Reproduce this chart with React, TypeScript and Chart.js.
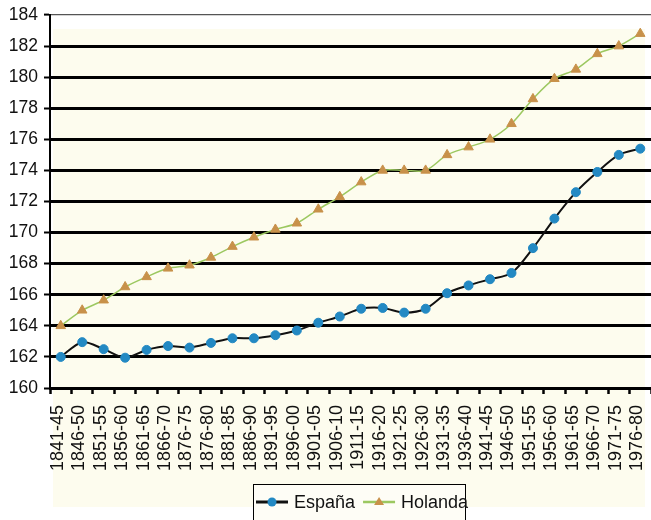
import React, { useEffect, useRef } from 'react';
import { Chart, registerables } from 'chart.js';

Chart.register(...registerables);

const categories = [
  '1841-45', '1846-50', '1851-55', '1856-60', '1861-65', '1866-70', '1876-75', '1876-80',
  '1881-85', '1886-90', '1891-95', '1896-00', '1901-05', '1906-10', '1911-15', '1916-20',
  '1921-25', '1926-30', '1931-35', '1936-40', '1941-45', '1946-50', '1951-55', '1956-60',
  '1961-65', '1966-70', '1971-75', '1976-80',
];

const espana = [
  162.0, 162.95, 162.5, 161.95, 162.45, 162.7, 162.6, 162.9,
  163.2, 163.2, 163.4, 163.7, 164.2, 164.6, 165.1, 165.15,
  164.85, 165.1, 166.1, 166.6, 167.0, 167.4, 169.0, 170.9,
  172.6, 173.9, 175.0, 175.4,
];

const holanda = [
  164.0, 165.0, 165.65, 166.5, 167.15, 167.7, 167.9, 168.4,
  169.1, 169.7, 170.2, 170.6, 171.5, 172.3, 173.25, 174.0,
  174.0, 174.0, 175.0, 175.5, 176.0, 177.0, 178.6, 179.9,
  180.5, 181.5, 182.0, 182.8,
];

const yMin = 160;
const yMax = 184;
const yStep = 2;

const FONT = "'Liberation Sans', Arial, Helvetica, sans-serif";

export default function App() {
  const ref = useRef<HTMLCanvasElement>(null);

  useEffect(() => {
    document.body.style.margin = '0';
    const canvas = ref.current;
    if (!canvas) return;

    const bgPlugin = {
      id: 'bgPlugin',
      beforeDraw(chart: any) {
        const c = chart.ctx;
        c.save();
        c.fillStyle = '#FDFCEE';
        c.fillRect(53, 29, 592, 478);
        c.restore();
      },
    };

    const legendPlugin = {
      id: 'customLegend',
      afterDraw(chart: any) {
        const c = chart.ctx;
        c.save();
        c.fillStyle = '#FEFDF6';
        c.fillRect(253.5, 484.5, 212, 40);
        c.strokeStyle = '#000';
        c.lineWidth = 1;
        c.strokeRect(253.5, 484.5, 212, 40);
        c.font = `18px ${FONT}`;
        c.textBaseline = 'middle';
        let x = 256;
        const y = 502;
        chart.data.datasets.forEach((ds: any) => {
          c.strokeStyle = ds.borderColor;
          c.lineWidth = ds.borderWidth + 1;
          c.beginPath();
          c.moveTo(x, y);
          c.lineTo(x + 32, y);
          c.stroke();
          const cx = x + 16;
          c.fillStyle = ds.pointBackgroundColor;
          c.beginPath();
          if (ds.pointStyle === 'triangle') {
            const r = 5;
            c.moveTo(cx, y - r);
            c.lineTo(cx + r, y + r * 0.6);
            c.lineTo(cx - r, y + r * 0.6);
            c.closePath();
          } else {
            c.arc(cx, y, 4.5, 0, Math.PI * 2);
          }
          c.fill();
          c.fillStyle = '#111';
          c.fillText(ds.label, x + 38, y + 1);
          x += 38 + c.measureText(ds.label).width + 8;
        });
        c.restore();
      },
    };

    const chart = new Chart(canvas, {
      type: 'line',
      data: {
        labels: categories,
        datasets: [
          {
            label: 'España',
            data: espana,
            borderColor: '#111111',
            borderWidth: 2,
            pointStyle: 'circle',
            pointRadius: 4.5,
            pointBackgroundColor: '#2389C3',
            pointBorderColor: '#2389C3',
            pointBorderWidth: 1,
            tension: 0.3,
          },
          {
            label: 'Holanda',
            data: holanda,
            borderColor: '#9CC860',
            borderWidth: 1.5,
            pointStyle: 'triangle',
            pointRadius: 5.5,
            pointBackgroundColor: '#C8914A',
            pointBorderColor: '#C8914A',
            pointBorderWidth: 1,
            tension: 0.3,
          },
        ],
      },
      options: {
        responsive: false,
        animation: false,
        clip: false,
        layout: { autoPadding: false, padding: { top: 15, right: 0, left: 0, bottom: 36 } },
        plugins: {
          legend: { display: false },
          tooltip: { enabled: false },
        },
        scales: {
          x: {
            offset: true,
            afterFit(scale: any) {
              scale.height = 96;
              scale.paddingRight = 0;
              scale.paddingLeft = 0;
            },
            grid: {
              offset: true,
              drawOnChartArea: false,
              drawTicks: true,
              tickLength: 6,
              tickWidth: 2.5,
              tickColor: '#000',
            },
            border: { display: true, color: '#000', width: 2 },
            ticks: {
              autoSkip: false,
              minRotation: 90,
              maxRotation: 90,
              padding: 11,
              labelOffset: -3,
              color: '#111',
              font: { family: FONT, size: 18 },
            },
          },
          y: {
            min: yMin,
            max: yMax,
            afterFit(scale: any) {
              scale.width = 50;
              scale.paddingTop = 0;
              scale.paddingBottom = 0;
            },
            grid: {
              color: (ctx: any) => (ctx.tick && ctx.tick.value === yMax ? '#555' : '#000'),
              lineWidth: (ctx: any) => (ctx.tick && ctx.tick.value === yMax ? 1.2 : 3),
              drawTicks: true,
              tickLength: 6,
              tickWidth: 2,
              tickColor: '#000',
            },
            border: { display: true, color: '#000', width: 2 },
            ticks: {
              stepSize: yStep,
              padding: 6,
              color: '#111',
              font: { family: FONT, size: 17.5 },
            },
          },
        },
      },
      plugins: [bgPlugin, legendPlugin],
    } as any);

    return () => chart.destroy();
  }, []);

  return <canvas ref={ref} width={651} height={520} style={{ display: 'block' }} />;
}
